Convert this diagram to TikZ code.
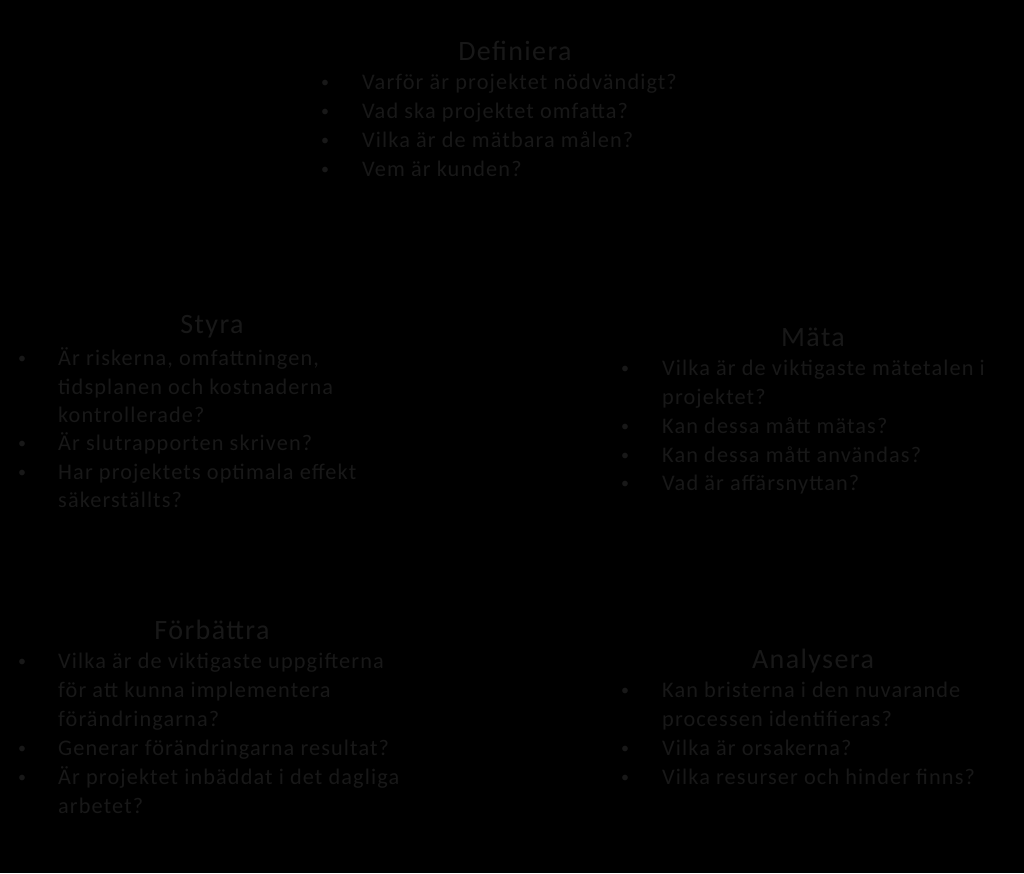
\documentclass[tikz,border=0pt]{standalone}
\usepackage{fontspec}
\setmainfont{Carlito}[LetterSpace=5]
\definecolor{ink}{RGB}{24,24,24}
\tikzset{
  title/.style={text=ink,font=\fontsize{28}{32}\selectfont,inner sep=0pt,anchor=base},
  item/.style={text=ink,font=\fontsize{22.3}{29}\selectfont,inner sep=0pt,anchor=base west},
  dot/.style={text=ink,font=\fontsize{16}{20}\selectfont,inner sep=0pt,anchor=base west,yshift=2pt}
}
\begin{document}
\begin{tikzpicture}[x=1pt,y=-1pt]
\fill[black] (0,0) rectangle (1024,873);
\useasboundingbox (0,0) rectangle (1024,873);
% Definiera
\node[title] (dt) at (515,60) {Definiera};
\node[dot] (db1) at (321,89) {•};
\node[item] (d1) at (362,89) {Varför är projektet nödvändigt?};
\node[dot] (db2) at (321,118) {•};
\node[item] (d2) at (362,118) {Vad ska projektet omfatta?};
\node[dot] (db3) at (321,147) {•};
\node[item] (d3) at (362,147) {Vilka är de mätbara målen?};
\node[dot] (db4) at (321,176) {•};
\node[item] (d4) at (362,176) {Vem är kunden?};
% Styra
\node[title] (st) at (212,333) {Styra};
\node[dot] (sb1) at (18,365) {•};
\node[item] (s1) at (58,365) {Är riskerna, omfattningen,};
\node[item] (s2) at (58,394) {tidsplanen och kostnaderna};
\node[item] (s3) at (58,422) {kontrollerade?};
\node[dot] (sb4) at (18,450) {•};
\node[item] (s4) at (58,450) {Är slutrapporten skriven?};
\node[dot] (sb5) at (18,479) {•};
\node[item] (s5) at (58,479) {Har projektets optimala effekt};
\node[item] (s6) at (58,507) {säkerställts?};
% Mäta
\node[title] (mt) at (813,346) {Mäta};
\node[dot] (mb1) at (621,375) {•};
\node[item] (m1) at (662,375) {Vilka är de viktigaste mätetalen i};
\node[item] (m2) at (662,404) {projektet?};
\node[dot] (mb3) at (621,433) {•};
\node[item] (m3) at (662,433) {Kan dessa mått mätas?};
\node[dot] (mb4) at (621,462) {•};
\node[item] (m4) at (662,462) {Kan dessa mått användas?};
\node[dot] (mb5) at (621,490) {•};
\node[item] (m5) at (662,490) {Vad är affärsnyttan?};
% Förbättra
\node[title] (ft) at (212,639) {Förbättra};
\node[dot] (fb1) at (18,668) {•};
\node[item] (f1) at (58,668) {Vilka är de viktigaste uppgifterna};
\node[item] (f2) at (58,697) {för att kunna implementera};
\node[item] (f3) at (58,726) {förändringarna?};
\node[dot] (fb4) at (18,755) {•};
\node[item] (f4) at (58,755) {Generar förändringarna resultat?};
\node[dot] (fb5) at (18,784) {•};
\node[item] (f5) at (58,784) {Är projektet inbäddat i det dagliga};
\node[item] (f6) at (58,813) {arbetet?};
% Analysera
\node[title] (at) at (813,668) {Analysera};
\node[dot] (ab1) at (621,697) {•};
\node[item] (a1) at (662,697) {Kan bristerna i den nuvarande};
\node[item] (a2) at (662,726) {processen identifieras?};
\node[dot] (ab3) at (621,755) {•};
\node[item] (a3) at (662,755) {Vilka är orsakerna?};
\node[dot] (ab4) at (621,784) {•};
\node[item] (a4) at (662,784) {Vilka resurser och hinder finns?};
\end{tikzpicture}
\end{document}
